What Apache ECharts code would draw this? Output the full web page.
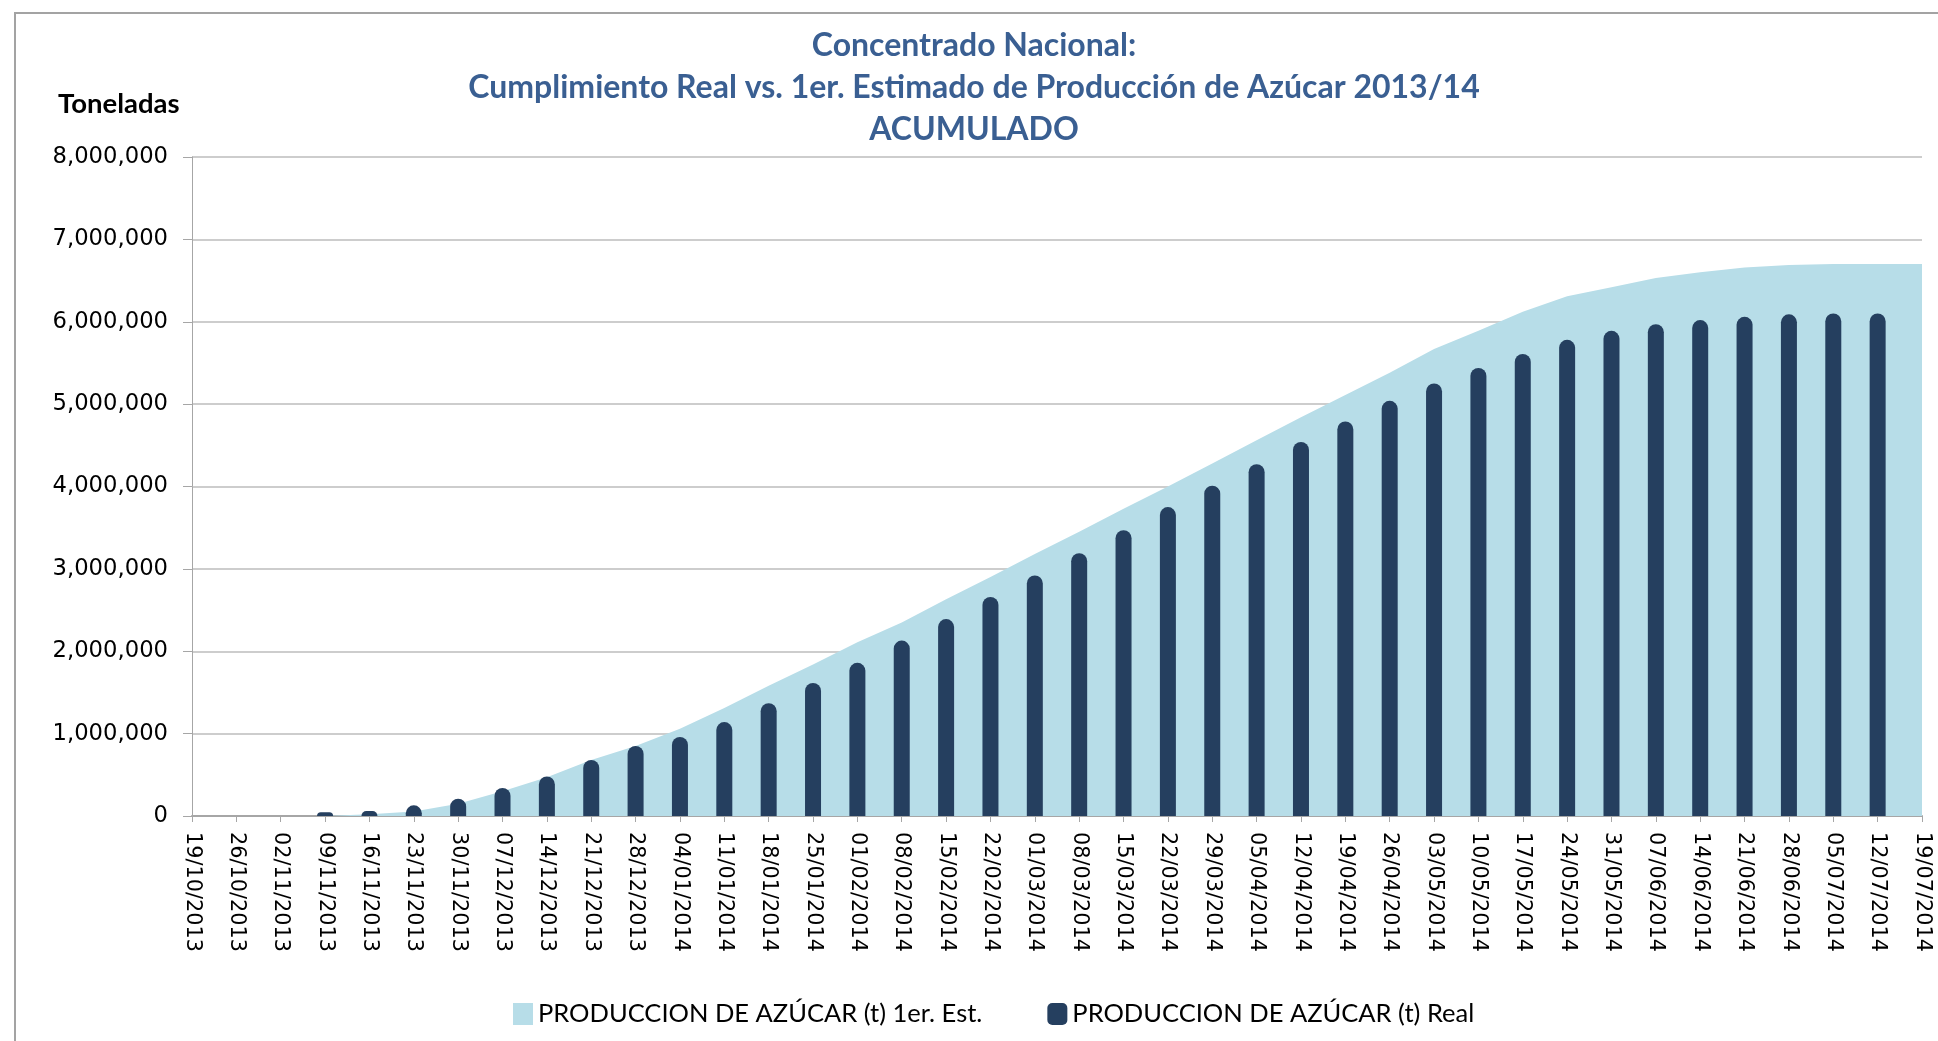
<!DOCTYPE html>
<html>
<head>
<meta charset="utf-8">
<title>Concentrado Nacional</title>
<script src="https://cdn.jsdelivr.net/npm/echarts@6/dist/echarts.min.js"></script>
<style>
  html, body { margin: 0; padding: 0; background: #fff; overflow: hidden; }
  #chart { width: 1938px; height: 1041px; }
  #frame {
    position: absolute; left: 14px; top: 12px; right: 0; bottom: 0;
    border-left: 2px solid #a3a3a3; border-top: 2px solid #a3a3a3;
    pointer-events: none;
  }
</style>
</head>
<body>
<div id="chart"></div>
<div id="frame"></div>
<script>
// Weekly cut-off dates (x axis)
const weeks = [
  '19/10/2013', '26/10/2013', '02/11/2013', '09/11/2013', '16/11/2013', '23/11/2013',
  '30/11/2013', '07/12/2013', '14/12/2013', '21/12/2013', '28/12/2013', '04/01/2014',
  '11/01/2014', '18/01/2014', '25/01/2014', '01/02/2014', '08/02/2014', '15/02/2014',
  '22/02/2014', '01/03/2014', '08/03/2014', '15/03/2014', '22/03/2014', '29/03/2014',
  '05/04/2014', '12/04/2014', '19/04/2014', '26/04/2014', '03/05/2014', '10/05/2014',
  '17/05/2014', '24/05/2014', '31/05/2014', '07/06/2014', '14/06/2014', '21/06/2014',
  '28/06/2014', '05/07/2014', '12/07/2014', '19/07/2014'
];

// 1er. estimado, acumulado (t)
const estimado = [
  null, null, null, 0, 20000, 55000,
  150000, 300000, 470000, 680000, 850000, 1060000,
  1310000, 1580000, 1840000, 2110000, 2350000, 2630000,
  2900000, 3180000, 3450000, 3730000, 4000000, 4280000,
  4560000, 4840000, 5110000, 5380000, 5670000, 5890000,
  6120000, 6310000, 6420000, 6530000, 6600000, 6660000,
  6690000, 6700000, 6700000, 6700000
];

// Real, acumulado (t)
const real = [
  null, null, null, 45000, 60000, 130000,
  210000, 340000, 480000, 680000, 850000, 960000,
  1140000, 1370000, 1615000, 1860000, 2130000, 2390000,
  2660000, 2920000, 3190000, 3470000, 3750000, 4010000,
  4270000, 4540000, 4790000, 5040000, 5250000, 5440000,
  5610000, 5780000, 5890000, 5970000, 6020000, 6060000,
  6090000, 6100000, 6100000, null
];

const yTicks = { min: 0, max: 8000000, step: 1000000 };

const AREA_COLOR = '#b7dde8';
const BAR_COLOR = '#253f5f';
const TITLE_COLOR = '#3a5f92';

function fmt(v) {
  return Number(v).toLocaleString('en-US');
}

const chart = echarts.init(document.getElementById('chart'), null, { renderer: 'canvas' });

chart.setOption({
  animation: false,
  backgroundColor: '#fff',
  title: [
    {
      text: 'Concentrado Nacional:\nCumplimiento Real vs. 1er. Estimado de Producción de Azúcar 2013/14\nACUMULADO',
      left: 969,
      top: 20,
      textAlign: 'center',
      textStyle: {
        color: TITLE_COLOR,
        fontFamily: 'Lato',
        fontWeight: 'bold',
        fontSize: 32,
        lineHeight: 42
      }
    },
    {
      text: 'Toneladas',
      left: 53,
      top: 85,
      textStyle: {
        color: '#000',
        fontFamily: 'Lato',
        fontWeight: 'bold',
        fontSize: 27.5
      }
    }
  ],
  legend: {
    left: 508,
    top: 996,
    itemGap: 65,
    itemWidth: 20,
    itemHeight: 22,
    textStyle: { fontFamily: 'Lato', fontSize: 25.5, color: '#000' },
    data: [
      { name: 'PRODUCCION DE AZÚCAR (t) 1er. Est.', icon: 'rect' },
      { name: 'PRODUCCION DE AZÚCAR (t) Real', icon: 'roundRect' }
    ]
  },
  grid: { left: 192, right: 16, top: 157, bottom: 225, containLabel: false },
  xAxis: {
    type: 'category',
    data: weeks,
    boundaryGap: false,
    axisLine: { lineStyle: { color: '#a6a6a6', width: 2 } },
    axisTick: { show: true, length: 6, alignWithLabel: true, lineStyle: { color: '#a6a6a6' } },
    axisLabel: {
      interval: 0,
      rotate: -90,
      margin: 16,
      fontFamily: 'DejaVu Sans',
      fontSize: 20.8,
      color: '#000'
    },
    splitLine: { show: false }
  },
  yAxis: {
    type: 'value',
    min: yTicks.min,
    max: yTicks.max,
    interval: yTicks.step,
    axisLine: { show: true, lineStyle: { color: '#a6a6a6', width: 1 } },
    axisTick: { show: true, length: 9, lineStyle: { color: '#a6a6a6' } },
    axisLabel: {
      margin: 24,
      fontFamily: 'DejaVu Sans',
      fontSize: 22.7,
      color: '#000',
      formatter: fmt
    },
    splitLine: { lineStyle: { color: '#bdbdbd', width: 1.5 } }
  },
  series: [
    {
      name: 'PRODUCCION DE AZÚCAR (t) 1er. Est.',
      type: 'line',
      data: estimado,
      smooth: false,
      symbol: 'none',
      lineStyle: { width: 0, color: AREA_COLOR },
      itemStyle: { color: AREA_COLOR },
      areaStyle: { color: AREA_COLOR, opacity: 1 },
      z: 1
    },
    {
      name: 'PRODUCCION DE AZÚCAR (t) Real',
      type: 'bar',
      data: real,
      barWidth: 16,
      itemStyle: { color: BAR_COLOR, borderRadius: [8, 8, 0, 0] },
      z: 3
    }
  ]
});
</script>
</body>
</html>
